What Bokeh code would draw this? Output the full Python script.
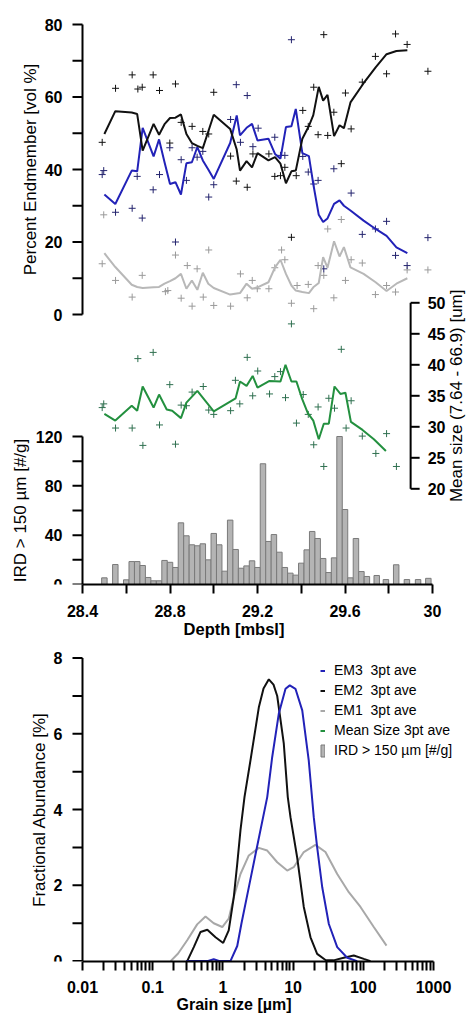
import math
from bokeh.plotting import figure
from bokeh.models import (Range1d, FixedTicker, CustomJSTickFormatter, ColumnDataSource,
                          Label, LabelSet, Legend, LegendItem)
from bokeh.core.properties import value
from bokeh.layouts import column
from bokeh.embed import file_html
from bokeh.resources import INLINE

FONT = "Liberation Sans"

# ---------------- depth panel data ----------------
depth_avg = [28.50, 28.55, 28.625, 28.65, 28.675, 28.725, 28.75, 28.775, 28.80, 28.825,
             28.85, 28.875, 28.90, 28.925, 28.95, 28.975, 29.00, 29.075, 29.105, 29.12,
             29.15, 29.175, 29.20, 29.25, 29.28, 29.305, 29.33, 29.355, 29.375, 29.405,
             29.435, 29.455, 29.48, 29.50, 29.52, 29.55, 29.575, 29.595, 29.625, 29.685,
             29.74, 29.79, 29.835, 29.885]
em3_avg = [33.1, 30.5, 39.7, 39.5, 51.5, 43.6, 48.3, 42.0, 36.0, 36.5,
           33.1, 41.7, 42.0, 46.2, 42.5, 40.0, 37.4, 47.3, 54.9, 49.4,
           51.5, 52.6, 48.0, 48.5, 44.3, 43.0, 51.7, 51.9, 56.7, 44.5,
           43.7, 36.0, 27.5, 25.5, 26.5, 30.5, 31.5, 30.0, 28.7, 25.9,
           23.6, 21.7, 18.5, 16.9]
em2_avg = [49.8, 56.1, 55.7, 55.3, 45.2, 52.6, 49.6, 52.5, 54.2, 54.3,
           55.2, 49.8, 47.3, 46.5, 45.9, 50.5, 55.1, 51.2, 45.5, 39.7,
           42.3, 40.6, 44.5, 42.5, 43.4, 41.6, 36.2, 39.5, 39.7, 48.5,
           52.0, 55.0, 62.8, 59.0, 60.6, 49.2, 52.2, 51.4, 58.5, 63.8,
           68.2, 71.8, 72.7, 72.9]
em1_avg = [16.9, 13.1, 8.2, 7.6, 7.3, 7.5, 7.6, 8.5, 9.2, 10.0,
           11.2, 7.1, 9.4, 6.8, 11.5, 8.5, 7.3, 5.5, 5.8, 5.9,
           8.5, 7.1, 7.5, 8.9, 13.0, 15.1, 11.2, 8.0, 6.6, 6.2,
           5.9, 7.5, 8.7, 15.8, 12.9, 20.2, 16.0, 18.6, 13.0, 11.2,
           8.9, 6.5, 8.5, 10.0]

em1_pt_depth = [28.49, 28.497, 28.551, 28.627, 28.673, 28.779, 28.79, 28.825, 28.851, 28.879,
                28.901, 28.924, 28.952, 28.977, 29.00, 29.077, 29.122, 29.153, 29.176, 29.199,
                29.252, 29.279, 29.31, 29.325, 29.355, 29.381, 29.432, 29.457, 29.477, 29.503,
                29.521, 29.549, 29.583, 29.602, 29.628, 29.679, 29.739, 29.79, 29.831, 29.884,
                29.979]
em1_pt = [14.0, 27.5, 9.4, 4.8, 10.8, 6.3, 6.6, 16.4, 4.5, 13.5,
          2.3, 12.6, 4.8, 17.8, 2.5, 2.3, 11.2, 4.6, 9.4, 7.1,
          7.1, 12.9, 17.8, 15.1, 3.1, 8.0, 8.3, 1.6, 13.5, 10.8,
          23.6, 4.6, 26.2, 9.4, 15.1, 14.2, 5.5, 8.0, 6.2, 12.3,
          12.3]
em2_pt_depth = [28.49, 28.551, 28.627, 28.653, 28.673, 28.723, 28.752, 28.799, 28.825, 28.851,
                28.901, 28.95, 28.977, 29.00, 29.077, 29.103, 29.153, 29.179, 29.252, 29.279,
                29.305, 29.325, 29.355, 29.377, 29.407, 29.432, 29.457, 29.477, 29.503, 29.521,
                29.549, 29.583, 29.602, 29.628, 29.679, 29.739, 29.79, 29.831, 29.884, 29.979]
em2_pt = [47.5, 62.4, 66.1, 62.2, 62.7, 66.1, 61.8, 47.3, 63.6, 53.0,
          51.9, 50.5, 49.8, 61.3, 43.7, 36.8, 35.1, 44.3, 44.3, 38.1,
          38.3, 40.6, 21.3, 38.3, 56.3, 51.9, 62.7, 49.6, 77.2, 49.4,
          55.8, 41.6, 61.1, 51.2, 64.1, 71.2, 66.4, 77.4, 74.5, 67.1]
em3_pt_depth = [28.49, 28.497, 28.551, 28.627, 28.65, 28.673, 28.723, 28.752, 28.799, 28.825,
                28.851, 28.875, 28.901, 28.924, 28.95, 28.977, 29.00, 29.077, 29.103, 29.122,
                29.153, 29.179, 29.203, 29.279, 29.305, 29.325, 29.355, 29.407, 29.432, 29.457,
                29.477, 29.503, 29.549, 29.628, 29.679, 29.739, 29.79, 29.831, 29.884, 29.979]
em3_pt = [38.6, 39.7, 28.2, 29.3, 38.1, 26.6, 34.4, 38.6, 46.0, 20.0,
          42.7, 37.0, 46.0, 43.4, 45.0, 32.4, 35.8, 53.8, 63.4, 47.5,
          60.4, 46.3, 51.4, 48.9, 43.9, 43.9, 75.8, 43.6, 39.3, 36.0,
          37.0, 12.6, 40.2, 33.5, 22.1, 23.6, 25.7, 16.3, 13.5, 21.2]

mean_depth = [28.50, 28.55, 28.625, 28.65, 28.675, 28.725, 28.75, 28.785, 28.81, 28.85,
              28.875, 28.925, 29.00, 29.10, 29.12, 29.15, 29.178, 29.20, 29.255, 29.305,
              29.328, 29.355, 29.378, 29.404, 29.43, 29.455, 29.48, 29.503, 29.526, 29.552,
              29.579, 29.602, 29.627, 29.68, 29.732, 29.787]
mean_avg = [32.1, 31.0, 33.4, 32.6, 36.5, 33.1, 35.2, 32.8, 32.6, 31.4,
            33.9, 35.8, 32.5, 34.6, 37.3, 36.6, 38.2, 36.3, 37.4, 37.3,
            40.0, 37.3, 37.3, 34.5, 32.2, 31.0, 28.0, 30.5, 30.5, 36.5,
            35.3, 35.5, 30.8, 29.5, 28.0, 26.1]
mean_pt_depth = [28.49, 28.497, 28.551, 28.627, 28.653, 28.676, 28.723, 28.752, 28.799, 28.825,
                 28.851, 28.875, 28.901, 28.952, 28.977, 29.00, 29.077, 29.099, 29.119, 29.153,
                 29.178, 29.201, 29.255, 29.279, 29.305, 29.328, 29.355, 29.378, 29.409, 29.432,
                 29.457, 29.477, 29.503, 29.526, 29.552, 29.583, 29.605, 29.628, 29.679, 29.741,
                 29.79, 29.835]
mean_pt = [33.1, 33.7, 29.8, 29.8, 41.0, 27.0, 42.0, 30.3, 36.8, 27.2,
           33.5, 33.4, 35.6, 36.5, 32.7, 32.0, 32.6, 37.5, 33.7, 41.2,
           35.0, 39.0, 35.3, 38.1, 38.9, 34.7, 46.6, 30.6, 35.2, 32.0,
           27.1, 33.2, 23.6, 34.6, 33.0, 42.5, 29.8, 34.2, 28.5, 25.7,
           28.9, 23.6]

ird_depth = [28.500, 28.550, 28.600, 28.625, 28.650, 28.675, 28.700, 28.725, 28.750, 28.775,
             28.800, 28.825, 28.850, 28.875, 28.900, 28.925, 28.950, 28.975, 29.000, 29.025,
             29.050, 29.075, 29.100, 29.125, 29.150, 29.175, 29.200, 29.225, 29.250, 29.275,
             29.300, 29.325, 29.350, 29.375, 29.400, 29.425, 29.450, 29.475, 29.500, 29.525,
             29.550, 29.575, 29.600, 29.625, 29.650, 29.675, 29.700, 29.745, 29.787, 29.834,
             29.883, 29.934, 29.981]
ird_count = [5.4, 16.2, 3.8, 18.6, 18.6, 15.4, 5.7, 3.0, 3.0, 19.5,
             18.0, 13.8, 50.0, 39.5, 32.2, 31.4, 33.0, 20.0, 41.4, 32.2,
             10.8, 52.2, 28.4, 13.2, 15.1, 19.2, 13.8, 97.9, 34.9, 40.5,
             26.2, 13.8, 9.2, 7.6, 17.3, 28.1, 43.0, 37.3, 21.1, 9.7,
             21.6, 120.0, 60.8, 5.4, 37.3, 10.5, 6.5, 7.3, 4.0, 16.0,
             4.0, 4.0, 5.0]

# ---------------- grain size panel data ----------------
em1_size = [0.18, 0.23, 0.31, 0.43, 0.565, 0.74, 0.98, 1.21, 1.43, 1.78, 2.34, 3.25,
            4.28, 5.94, 8.24, 10.2, 14.2, 20.8, 28.9, 42.5, 62.1, 91.2, 141, 214]
em1_frac = [0.0, 0.2, 0.55, 0.97, 1.18, 1.0, 0.9, 1.12, 1.69, 2.3, 2.79, 2.99,
            2.92, 2.61, 2.39, 2.48, 2.88, 3.07, 2.88, 2.3, 1.82, 1.43, 0.9, 0.41]
em2_size = [0.31, 0.385, 0.48, 0.6, 0.785, 1.01, 1.21, 1.43, 1.6, 1.78, 2.03, 2.47,
            3.25, 3.79, 4.51, 5.26, 5.94, 7.37, 8.4, 9.18, 11.4, 14.2, 17.7, 22.0,
            28.9, 37.6, 52.7, 73.2, 101.6, 126.6]
em2_frac = [0.0, 0.37, 0.77, 0.83, 0.63, 0.48, 0.81, 1.69, 2.57, 3.46, 4.33, 5.3,
            6.7, 7.2, 7.44, 7.3, 7.0, 5.74, 4.33, 3.8, 2.75, 1.43, 0.63, 0.19,
            0.03, 0.02, 0.09, 0.15, 0.06, 0.0]
em3_size = [0.3, 0.6, 0.74, 0.9, 1.28, 1.6, 1.84, 2.37, 3.05, 4.28, 5.04, 6.25,
            7.8, 8.97, 10.8, 13.5, 16.7, 19.7, 22.0, 26.0, 32.3, 42.5, 59, 81.8]
em3_frac = [0.0, 0.0, 0.05, 0.0, 0.0, 0.4, 1.0, 2.0, 3.0, 4.33, 5.39, 6.53,
            7.19, 7.28, 7.19, 6.62, 5.3, 3.8, 3.01, 1.95, 0.98, 0.37, 0.09, 0.0]

# ---------------- ticks ----------------
depth_ticks = [28.4, 28.8, 29.2, 29.6, 30.0]
depth_minor = [28.6, 29.0, 29.4, 29.8]
pct_ticks = [0, 10, 20, 30, 40, 50, 60, 70, 80]
pct_labels = [0, 20, 40, 60, 80]
ird_ticks = [0, 20, 40, 60, 80, 100, 120]
ird_labels = [0, 40, 80, 120]
mean_ticks = [20, 25, 30, 35, 40, 45, 50]
frac_ticks = [0, 1, 2, 3, 4, 5, 6, 7, 8]
frac_labels = [0, 2, 4, 6, 8]
size_ticks = [0.01, 0.1, 1, 10, 100, 1000]
size_minor = [m * d for d in (0.01, 0.1, 1, 10, 100) for m in range(2, 10)]

C_EM3 = "#2222b8"
C_EM3_PT = "#24246e"
C_EM2 = "#111111"
C_EM1 = "#b8b8b8"
C_EM1_PT = "#9a9a9a"
C_MEAN = "#23903f"
C_MEAN_PT = "#2f7050"
C_BAR = "#b4b4b4"
C_BAR_LINE = "#7a7a7a"

# ---------------- layout constants (pixels) ----------------
PAGE_W = 467
AXIS_OFF = 82      # px from the frame's left edge to the left axes
PX_M = 218.75      # px per metre depth
PX_PCT = 3.625     # px per vol %
PX_IRD = 1.2333    # px per #/g
PX_MEAN = 6.2      # px per um
FH1 = 570
PCT0_FROM_BOTTOM = 270
MEAN20_FROM_BOTTOM = 95.7
AX_X = 28.4
MEAN_AX_X = 29.9

fmt = CustomJSTickFormatter(code="return String(Math.round(tick * 1000) / 1000);")


def style_axis(ax, tick_len, standoff):
    ax.axis_line_width = 2
    ax.axis_line_color = "black"
    ax.major_tick_line_width = 2
    ax.minor_tick_line_width = 2
    ax.major_tick_line_color = "black"
    ax.minor_tick_line_color = "black"
    ax.major_tick_out = tick_len
    ax.minor_tick_out = tick_len
    ax.major_tick_in = 0
    ax.minor_tick_in = 0
    ax.major_label_text_font = FONT
    ax.major_label_text_font_size = "16px"
    ax.major_label_text_font_style = "bold"
    ax.major_label_text_color = "black"
    ax.major_label_standoff = standoff
    ax.formatter = fmt


def vertical_axis(p, xloc, ticks, labels, side, tick_len, label_off, rng="default"):
    """R-style axis drawn at a data x position (like axis(side, pos=...))."""
    p.segment(x0=[xloc], y0=[min(ticks)], x1=[xloc], y1=[max(ticks)],
              line_color="black", line_width=2, y_range_name=rng)
    p.ray(x=[xloc] * len(ticks), y=ticks, length=tick_len, length_units="screen",
          angle=math.pi if side == "left" else 0.0,
          line_color="black", line_width=2, y_range_name=rng)
    src = ColumnDataSource(dict(x=[xloc] * len(labels), y=labels,
                                t=[str(v) for v in labels]))
    p.add_layout(LabelSet(x="x", y="y", text="t", source=src, y_range_name=rng,
                          x_offset=label_off,
                          text_align="right" if side == "left" else "left",
                          text_baseline="middle", text_font=value(FONT),
                          text_font_size=value("16px"), text_font_style=value("bold"),
                          text_color=value("black")))


def side_title(text, x, y, xoff, rng="default"):
    return Label(x=x, y=y, x_offset=xoff, text=text, angle=math.pi / 2,
                 y_range_name=rng, text_align="center", text_baseline="middle",
                 text_font=FONT, text_font_size="17px", text_color="black")


x0 = AX_X - AXIS_OFF / PX_M
pct0 = -PCT0_FROM_BOTTOM / PX_PCT
mean0 = 20 - MEAN20_FROM_BOTTOM / PX_MEAN

p1 = figure(frame_width=PAGE_W, frame_height=FH1, output_backend="svg", toolbar_location=None,
            x_range=Range1d(x0, x0 + PAGE_W / PX_M),
            y_range=Range1d(pct0, pct0 + FH1 / PX_PCT),
            y_axis_location=None,
            min_border_left=0, min_border_right=0, min_border_top=14, min_border_bottom=0)
p1.extra_y_ranges = {"ird": Range1d(0, FH1 / PX_IRD),
                     "mean": Range1d(mean0, mean0 + FH1 / PX_MEAN)}
p1.grid.visible = False
p1.outline_line_color = None

# bars
p1.vbar(x=ird_depth, top=ird_count, bottom=0, width=0.025, y_range_name="ird",
        fill_color=C_BAR, line_color=C_BAR_LINE, line_width=1)
# mean size
p1.scatter(mean_pt_depth, mean_pt, marker="cross", size=7, line_color=C_MEAN_PT,
           line_width=1, y_range_name="mean")
p1.line(mean_depth, mean_avg, line_color=C_MEAN, line_width=2, y_range_name="mean")
# endmembers
p1.scatter(em1_pt_depth, em1_pt, marker="cross", size=7, line_color=C_EM1_PT, line_width=1)
p1.scatter(em2_pt_depth, em2_pt, marker="cross", size=7, line_color=C_EM2, line_width=1)
p1.scatter(em3_pt_depth, em3_pt, marker="cross", size=7, line_color=C_EM3_PT, line_width=1)
p1.line(depth_avg, em1_avg, line_color=C_EM1, line_width=2)
p1.line(depth_avg, em3_avg, line_color=C_EM3, line_width=2)
p1.line(depth_avg, em2_avg, line_color=C_EM2, line_width=2)

vertical_axis(p1, AX_X, pct_ticks, pct_labels, "left", 10, -20)
vertical_axis(p1, AX_X, ird_ticks, ird_labels, "left", 10, -20, "ird")
vertical_axis(p1, MEAN_AX_X, mean_ticks, mean_ticks, "right", 9, 17, "mean")

xa = p1.xaxis[0]
xa.ticker = FixedTicker(ticks=depth_ticks, minor_ticks=depth_minor)
xa.bounds = (28.4, 30.0)
style_axis(xa, 9, 11)
xa.axis_label = "Depth [mbsl]"
xa.axis_label_text_font = FONT
xa.axis_label_text_font_size = "16.5px"
xa.axis_label_text_font_style = "bold"
xa.axis_label_text_color = "black"
xa.axis_label_standoff = 0

p1.add_layout(side_title("Percent Endmember [vol %]", AX_X, 40, -52))
p1.add_layout(side_title("IRD > 150 \u00b5m [#/g]", AX_X, 60, -62, "ird"))
p1.add_layout(side_title("Mean size (7.64 - 66.9) [um]", MEAN_AX_X, 35, 46, "mean"))

# ---------------- grain size figure ----------------
PX_DEC = 70.2
PX_FRAC = 37.875
FH2 = 315
y0b = -0.01
SIZE0 = 0.01
p2 = figure(frame_width=PAGE_W, frame_height=FH2, output_backend="svg", toolbar_location=None,
            x_axis_type="log",
            x_range=Range1d(SIZE0 * 10 ** (-AXIS_OFF / PX_DEC),
                            SIZE0 * 10 ** ((PAGE_W - AXIS_OFF) / PX_DEC)),
            y_range=Range1d(y0b, y0b + FH2 / PX_FRAC),
            y_axis_location=None,
            min_border_left=0, min_border_right=0, min_border_top=6, min_border_bottom=0)
p2.grid.visible = False
p2.outline_line_color = None

g1 = p2.line(em1_size, em1_frac, line_color="#a8a8a8", line_width=2)
g2 = p2.line(em2_size, em2_frac, line_color=C_EM2, line_width=2)
g3 = p2.line(em3_size, em3_frac, line_color=C_EM3, line_width=2)
# legend-only renderers (no visible data)
nan = float("nan")
proxy_mean = p2.line(x=[nan], y=[nan], line_color=C_MEAN, line_width=2)
proxy_ird = p2.vbar(x=[nan], top=[nan], width=1, fill_color=C_BAR, line_color=C_BAR_LINE)

vertical_axis(p2, SIZE0, frac_ticks, frac_labels, "left", 10, -20)
p2.add_layout(side_title("Fractional Abundance [%]", SIZE0, 4, -43))

xa2 = p2.xaxis[0]
xa2.ticker = FixedTicker(ticks=size_ticks, minor_ticks=size_minor)
xa2.bounds = (0.01, 1000)
style_axis(xa2, 9, 10)
xa2.axis_label = "Grain size [\u00b5m]"
xa2.axis_label_text_font = FONT
xa2.axis_label_text_font_size = "16px"
xa2.axis_label_text_font_style = "bold"
xa2.axis_label_text_color = "black"
xa2.axis_label_standoff = 0

legend = Legend(items=[
    LegendItem(label="EM3\u00a0 3pt ave", renderers=[g3]),
    LegendItem(label="EM2\u00a0 3pt ave", renderers=[g2]),
    LegendItem(label="EM1\u00a0 3pt ave", renderers=[g1]),
    LegendItem(label="Mean Size 3pt ave", renderers=[proxy_mean]),
    LegendItem(label="IRD > 150 \u00b5m [#/g]", renderers=[proxy_ird]),
], location=(320, 203))
legend.glyph_width = 5
legend.glyph_height = 15
legend.label_height = 16
legend.label_standoff = 9
legend.spacing = 4
legend.padding = 0
legend.margin = 0
legend.border_line_color = None
legend.background_fill_alpha = 0
legend.label_text_font = FONT
legend.label_text_font_size = "14px"
legend.label_text_color = "black"
p2.add_layout(legend)

layout = column(p1, p2)
open("out.html", "w").write(file_html(layout, INLINE))
